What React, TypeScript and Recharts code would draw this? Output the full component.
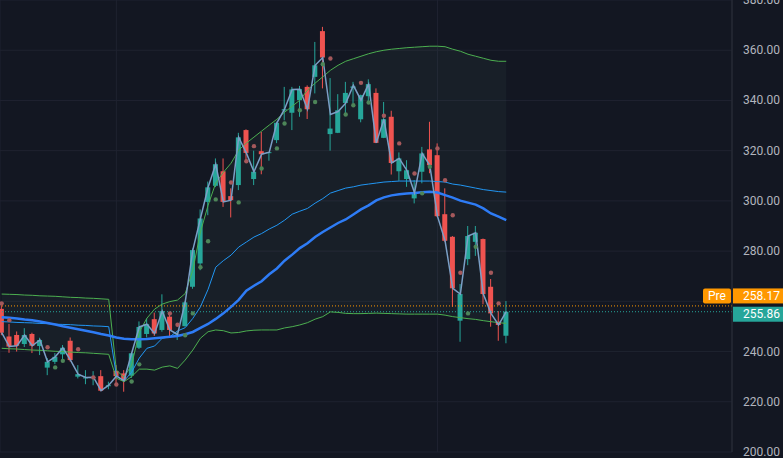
import React from 'react';
import {
  ComposedChart,
  Bar,
  Line,
  Area,
  XAxis,
  YAxis,
  CartesianGrid,
  ReferenceLine,
} from 'recharts';

// daily candles (index 0 = left edge)
const OPEN = [
  257.0, 246.0, 246.6, 243.0, 247.0, 242.2, 233.6, 235.9, 238.9, 244.3,
  230.0, 229.3, 229.4, 230.2, 226.2, 232.3, 231.3, 230.4, 241.5, 247.0,
  252.9, 248.6, 253.9, 246.4, 250.1, 265.8, 275.1, 299.6, 306.0, 311.8,
  301.9, 306.3, 328.2, 308.7, 319.8, 319.0, 324.2, 336.0, 335.1, 340.1,
  345.4, 349.4, 367.6, 326.6, 327.1, 339.0, 345.0, 332.5, 341.7, 343.0,
  325.1, 333.5, 311.8, 308.7, 301.0, 311.6, 320.5, 318.2, 294.7, 285.7,
  252.3, 276.8, 283.7, 284.8, 265.8, 251.9, 246.3,
];
const HIGH = [
  258.5, 251.0, 248.0, 249.3, 247.5, 245.5, 237.4, 239.4, 242.6, 245.6,
  234.6, 232.6, 232.2, 232.6, 228.0, 234.6, 232.6, 239.5, 252.0, 253.2,
  255.5, 262.8, 255.2, 248.0, 260.0, 281.0, 296.6, 307.7, 316.9, 316.9,
  305.0, 327.1, 328.5, 320.0, 327.5, 319.5, 331.5, 345.4, 345.4, 345.8,
  346.0, 363.3, 369.3, 348.9, 342.5, 347.4, 347.4, 342.3, 348.4, 344.8,
  339.4, 335.9, 319.3, 316.2, 308.3, 321.5, 331.5, 322.9, 305.0, 286.0,
  266.9, 290.0, 290.0, 285.0, 268.9, 256.1, 260.1,
];
const LOW = [
  246.5, 239.5, 240.0, 241.8, 239.4, 238.6, 230.6, 235.0, 236.3, 236.0,
  229.3, 227.0, 226.6, 224.2, 225.0, 227.0, 224.0, 229.5, 241.0, 245.6,
  246.2, 247.9, 245.6, 244.6, 250.0, 265.0, 272.4, 294.3, 305.5, 297.6,
  293.4, 304.3, 316.0, 306.3, 310.6, 316.0, 323.0, 332.1, 328.2, 333.5,
  332.6, 342.8, 344.8, 320.0, 327.0, 334.1, 338.8, 331.3, 338.8, 323.0,
  325.0, 310.5, 308.0, 305.6, 299.0, 307.0, 311.0, 293.5, 283.7, 257.8,
  243.9, 274.4, 278.1, 258.8, 249.9, 244.3, 243.3,
];
const CLOSE = [
  247.5, 242.0, 242.3, 246.6, 242.3, 244.6, 235.9, 237.9, 241.5, 236.6,
  231.0, 229.7, 229.8, 224.4, 226.6, 230.2, 228.4, 239.3, 249.8, 250.9,
  247.2, 256.1, 248.6, 246.8, 259.6, 280.4, 293.0, 305.4, 314.6, 299.6,
  300.3, 325.3, 319.1, 311.6, 318.6, 319.4, 331.1, 336.5, 344.4, 344.5,
  336.5, 354.0, 357.1, 328.8, 336.1, 343.0, 345.6, 342.1, 346.5, 323.1,
  332.5, 315.1, 316.9, 312.2, 303.2, 318.9, 314.2, 293.9, 284.1, 265.2,
  262.9, 286.0, 287.3, 262.9, 255.2, 250.6, 255.86,
];

// thin line threaded through the candles
const TRACK = [
  247.5, 242.0, 242.3, 246.6, 242.3, 244.6, 235.9, 237.9, 241.5, 236.6,
  231.0, 229.7, 229.8, 224.4, 226.6, 230.2, 228.4, 239.3, 249.8, 250.9,
  247.2, 256.1, 248.6, 246.8, 259.6, 280.4, 293.0, 305.4, 314.6, 299.6,
  300.3, 325.3, 319.1, 311.6, 318.6, 319.4, 331.1, 336.5, 344.4, 344.5,
  336.5, 354.0, 357.1, 334.4, 335.6, 338.9, 346.0, 340.1, 346.5, 323.1,
  332.5, 315.1, 316.9, 312.2, 303.2, 318.9, 314.2, 293.9, 284.1, 265.2,
  262.9, 286.0, 287.3, 262.9, 255.2, 250.6, 255.86,
];

const UPPER_BAND = [
  262.9, 262.8, 262.7, 262.5, 262.4, 262.2, 262.1, 262.0, 261.8, 261.6,
  261.5, 261.3, 261.2, 261.0, 260.8, 232.6, 229.8, 234.6, 247.8, 253.3,
  256.9, 258.9, 259.9, 260.5, 263.1, 272.4, 287.6, 298.3, 307.1, 311.4,
  315.0, 320.2, 323.0, 325.4, 327.8, 330.2, 332.5, 335.3, 337.7, 340.1,
  344.1, 346.9, 349.4, 352.0, 354.0, 355.6, 356.6, 357.6, 358.6, 359.4,
  360.0, 360.4, 360.7, 361.0, 361.2, 361.4, 361.6, 361.6, 361.4, 360.4,
  359.6, 358.4, 357.6, 356.8, 356.0, 355.6, 355.6,
];
const LOWER_BAND = [
  241.3, 241.1, 241.0, 240.8, 240.6, 240.5, 240.3, 240.1, 240.0, 239.8,
  239.6, 239.5, 239.3, 239.1, 238.9, 229.4, 228.0, 230.0, 233.0, 233.0,
  232.6, 233.8, 234.3, 233.3, 236.6, 240.6, 245.3, 247.9, 248.6, 248.3,
  247.4, 247.6, 248.2, 248.5, 248.6, 248.6, 248.6, 249.4, 249.9, 250.6,
  251.5, 252.9, 253.9, 255.8, 255.6, 255.2, 255.1, 255.1, 255.2, 255.3,
  255.2, 255.1, 255.0, 254.9, 254.9, 254.9, 254.9, 254.9, 254.5, 253.9,
  253.5, 253.1, 252.8, 252.3, 251.9, 251.5, 251.2,
];
const FAST_MA = [
  251.9, 251.8, 251.6, 251.5, 251.4, 251.2, 251.1, 250.9, 250.8, 250.7,
  250.5, 250.4, 250.2, 250.1, 249.9, 230.5, 228.3, 231.8, 237.4, 241.3,
  242.2, 245.3, 245.9, 248.2, 249.5, 253.2, 257.8, 264.8, 273.6, 276.2,
  278.4, 281.6, 283.6, 285.6, 287.0, 288.8, 290.3, 292.3, 294.7, 295.9,
  297.0, 299.1, 300.9, 303.1, 304.1, 305.1, 305.6, 306.3, 306.7, 307.1,
  307.5, 307.7, 307.9, 307.9, 307.9, 307.9, 307.9, 307.7, 307.5, 306.7,
  306.3, 305.7, 305.1, 304.5, 304.1, 303.7, 303.5,
];
const SLOW_MA = [
  253.7, 253.5, 253.2, 252.8, 252.5, 252.0, 251.4, 250.8, 250.1, 249.5,
  248.9, 248.3, 247.7, 247.0, 246.4, 245.6, 245.1, 244.9, 244.9, 245.0,
  245.3, 245.6, 245.9, 246.2, 246.9, 247.8, 249.4, 251.0, 253.0, 255.2,
  257.8, 260.6, 264.2, 266.2, 268.0, 270.8, 273.1, 276.2, 278.6, 281.2,
  283.1, 285.6, 287.6, 289.4, 291.2, 292.6, 294.6, 296.6, 298.2, 300.2,
  301.4, 302.2, 302.6, 302.9, 303.1, 303.4, 303.6, 303.3, 302.3, 301.3,
  300.1, 299.3, 298.5, 297.0, 295.0, 293.7, 292.3,
];

// small signal dots: [candle index, price, 'r' | 'g']
const MARKERS: [number, number, 'r' | 'g'][] = [
  [0, 259.2, 'r'], [1, 252.5, 'r'], [6, 241.7, 'r'], [7, 233.7, 'g'],
  [8, 236.3, 'g'], [10, 240.9, 'r'], [12, 229.7, 'r'], [15, 226.9, 'r'],
  [17, 228.1, 'g'], [18, 234.9, 'g'], [22, 255.2, 'r'], [23, 250.7, 'r'],
  [24, 246.5, 'g'], [25, 255.2, 'g'], [26, 273.6, 'g'], [27, 283.9, 'g'],
  [28, 300.6, 'g'], [30, 307.3, 'r'], [31, 299.4, 'g'], [32, 315.8, 'r'],
  [33, 321.8, 'r'], [34, 312.9, 'g'], [36, 320.9, 'g'], [37, 330.8, 'g'],
  [39, 336.1, 'g'], [41, 339.4, 'g'], [42, 354.4, 'g'], [43, 356.7, 'r'],
  [45, 334.4, 'g'], [46, 338.1, 'g'], [47, 347.0, 'r'], [48, 339.2, 'g'],
  [50, 333.9, 'r'], [52, 322.9, 'r'], [54, 310.9, 'r'], [55, 303.0, 'g'],
  [56, 313.6, 'g'], [57, 320.9, 'r'], [58, 308.2, 'r'], [59, 294.3, 'r'],
  [60, 271.4, 'r'], [61, 255.2, 'g'], [62, 281.7, 'g'], [64, 271.4, 'r'],
  [65, 259.2, 'r'],
];

const Y_TICKS = [200, 220, 240, 260, 280, 300, 320, 340, 360, 380];
const GRID_X = [15, 57];
const PRE_PRICE = 258.17;
const LAST_PRICE = 255.86;

const UP = '#26a69a';
const DOWN = '#ef5350';
const FONT = 'Roboto, "Noto Sans", sans-serif';

const rows = OPEN.map((o, i) => {
  const m = MARKERS.find((d) => d[0] === i);
  return {
    i,
    o,
    h: HIGH[i],
    l: LOW[i],
    c: CLOSE[i],
    track: TRACK[i],
    up: UPPER_BAND[i],
    lo: LOWER_BAND[i],
    fast: FAST_MA[i],
    slow: SLOW_MA[i],
    red: m && m[2] === 'r' ? m[1] : null,
    green: m && m[2] === 'g' ? m[1] : null,
  };
});

function Candle(props: any) {
  const { x, y, width, height, payload } = props;
  if (!payload) return <g />;
  const { o, h, l, c } = payload;
  const top = Math.min(y, y + height);
  const span = Math.abs(height);
  const k = h > l ? span / (h - l) : 0;
  const yOf = (v: number) => top + (h - v) * k;
  const color = c >= o ? UP : DOWN;
  const cx = x + width / 2;
  const bodyTop = yOf(Math.max(o, c));
  const bodyH = Math.max(1, yOf(Math.min(o, c)) - bodyTop);
  return (
    <g>
      <line x1={cx} x2={cx} y1={top} y2={top + span} stroke={color} strokeWidth={1} />
      <rect x={x} y={bodyTop} width={width} height={bodyH} fill={color} />
    </g>
  );
}

function markerDot(color: string, key: string) {
  return (p: any) => {
    if (p.payload[key] == null || p.cy == null) return <g key={`${key}${p.index}`} />;
    return <circle key={`${key}${p.index}`} cx={p.cx} cy={p.cy} r={2.2} fill={color} />;
  };
}

function PriceTag(props: any) {
  const { viewBox, text, bg, shift, pre } = props;
  if (!viewBox) return null;
  const axisX = viewBox.x + viewBox.width;
  const top = viewBox.y - 7.5 + shift;
  return (
    <g>
      {pre && (
        <g>
          <rect x={axisX - 29} y={top} width={28} height={15} rx={2} fill={bg} />
          <text x={axisX - 15} y={top + 11.5} fill="#fff" fontSize={12} textAnchor="middle" fontFamily={FONT}>
            Pre
          </text>
        </g>
      )}
      <rect x={axisX + 1} y={top} width={52} height={15} fill={bg} />
      <text x={axisX + 11} y={top + 11.5} fill="#fff" fontSize={12} fontFamily={FONT}>
        {text}
      </text>
    </g>
  );
}

function AxisTick(props: any) {
  const { x, y, payload } = props;
  if (payload.value === 260) return <g />;
  return (
    <text x={x} y={y + 4} fill="#b2b5be" fontSize={12} fontFamily={FONT}>
      {payload.value.toFixed(2)}
    </text>
  );
}

export default function App() {
  return (
    <div
      style={{
        position: 'fixed',
        left: 0,
        top: 0,
        width: 783,
        height: 458,
        background: '#131722',
        fontFamily: FONT,
      }}
    >
      <ComposedChart width={783} height={458} data={rows} margin={{ top: 0, right: 0, bottom: 6, left: 0 }}>
        <XAxis dataKey="i" type="number" domain={[-0.22, 95.53]} ticks={GRID_X} hide allowDataOverflow />
        <YAxis
          orientation="right"
          domain={[200, 380]}
          ticks={Y_TICKS}
          interval={0}
          width={51}
          allowDataOverflow
          axisLine={{ stroke: '#2a2e39' }}
          tickLine={false}
          tickMargin={5}
          tick={<AxisTick />}
        />
        <CartesianGrid stroke="#1f2330" />
        <Area
          dataKey={(d: any) => [d.lo, d.up]}
          stroke="none"
          fill="#6a8a84"
          fillOpacity={0.07}
          activeDot={false}
          isAnimationActive={false}
        />
        <ReferenceLine
          y={PRE_PRICE}
          stroke="#ff9800"
          strokeDasharray="1 2"
          label={<PriceTag text={PRE_PRICE.toFixed(2)} bg="#ff9800" shift={-10} pre />}
        />
        <ReferenceLine
          y={LAST_PRICE}
          stroke={UP}
          strokeDasharray="1 2"
          label={<PriceTag text={LAST_PRICE.toFixed(2)} bg={UP} shift={2.5} />}
        />
        <Line dataKey="up" stroke="#4caf50" strokeWidth={1} dot={false} activeDot={false} isAnimationActive={false} />
        <Line dataKey="lo" stroke="#4caf50" strokeWidth={1} dot={false} activeDot={false} isAnimationActive={false} />
        <Line dataKey="fast" stroke="#2196f3" strokeWidth={1} dot={false} activeDot={false} isAnimationActive={false} />
        <Line dataKey="slow" stroke="#2e7cf6" strokeWidth={2.5} dot={false} activeDot={false} isAnimationActive={false} />
        <Bar dataKey={(d: any) => [d.l, d.h]} barSize={5} shape={<Candle />} isAnimationActive={false} />
        <Line dataKey="track" stroke="#7b9fc6" strokeWidth={1.5} dot={false} activeDot={false} isAnimationActive={false} />
        <Line
          dataKey="red"
          stroke="none"
          dot={markerDot('#a4585b', 'red')}
          activeDot={false}
          legendType="none"
          isAnimationActive={false}
        />
        <Line
          dataKey="green"
          stroke="none"
          dot={markerDot('#4d8558', 'green')}
          activeDot={false}
          legendType="none"
          isAnimationActive={false}
        />
      </ComposedChart>
    </div>
  );
}
